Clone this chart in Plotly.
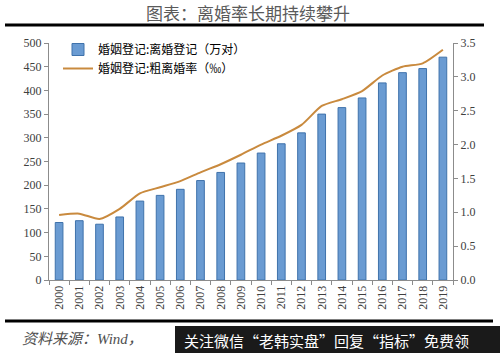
import plotly.graph_objects as go

years = [str(y) for y in range(2000, 2020)]
divorces = [121.3, 125.1, 117.7, 133.0, 166.5, 178.5, 191.3, 209.8, 226.9, 246.8,
            267.8, 287.4, 310.4, 350.0, 363.7, 384.1, 415.8, 437.4, 446.1, 470.1]
rate = [0.96, 0.98, 0.90, 1.05, 1.28, 1.37, 1.46, 1.59, 1.71, 1.85,
        2.00, 2.13, 2.29, 2.57, 2.67, 2.79, 3.02, 3.15, 3.20, 3.40]
left_ticks = [0, 50, 100, 150, 200, 250, 300, 350, 400, 450, 500]
right_ticks = [0.0, 0.5, 1.0, 1.5, 2.0, 2.5, 3.0, 3.5]

W, H = 500, 353
L, R, T, B = 49, 453, 43, 280

def px(x):
    return (x - L) / (R - L)

def py(y):
    return (B - y) / (B - T)

fig = go.Figure()
fig.add_trace(go.Bar(
    x=years, y=divorces, name="婚姻登记:离婚登记（万对）",
    marker=dict(color="#6A9BD2", line=dict(color="#3F72AB", width=1)),
    width=0.38,
))
fig.add_trace(go.Scatter(
    x=years, y=rate, name="婚姻登记:粗离婚率（‰）", yaxis="y2",
    mode="lines", line=dict(color="#C98A3E", width=2, shape="spline", smoothing=0.6),
))

tickfont = dict(family="Liberation Serif", size=12, color="#404040")
fig.update_layout(
    width=W, height=H,
    margin=dict(l=L, r=W - R, t=T, b=H - B, pad=0),
    paper_bgcolor="white", plot_bgcolor="white",
    showlegend=True,
    legend=dict(x=px(58), y=py(35), xanchor="left", yanchor="top",
                font=dict(family="Noto Sans CJK SC", size=12, color="#000000"),
                bgcolor="rgba(0,0,0,0)", tracegroupgap=0, itemwidth=30),
    xaxis=dict(type="category", tickangle=-90, tickfont=tickfont,
               showline=True, linecolor="#8C8C8C", linewidth=1,
               ticks="outside", ticklen=4, tickcolor="#8C8C8C",
               tickson="boundaries", showgrid=False, zeroline=False),
    yaxis=dict(range=[0, 500], tickvals=left_ticks, tickfont=tickfont,
               showline=True, linecolor="#8C8C8C", linewidth=1,
               ticks="outside", ticklen=4, tickcolor="#8C8C8C",
               showgrid=False, zeroline=False),
    yaxis2=dict(range=[0, 3.5], tickvals=right_ticks, ticktext=[f"{v:.1f}" for v in right_ticks],
                overlaying="y", side="right", tickfont=tickfont,
                showline=True, linecolor="#8C8C8C", linewidth=1,
                ticks="outside", ticklen=4, tickcolor="#8C8C8C",
                showgrid=False, zeroline=False),
    bargap=0.6,
)

shapes = [
    dict(type="line", xref="paper", yref="paper", x0=px(5), x1=px(484), y0=py(25), y1=py(25),
         line=dict(color="black", width=3)),
    dict(type="line", xref="paper", yref="paper", x0=px(5), x1=px(493), y0=py(321), y1=py(321),
         line=dict(color="black", width=3)),
    dict(type="rect", xref="paper", yref="paper", x0=px(175), x1=px(500), y0=py(326), y1=py(353),
         fillcolor="#1a1a1a", line=dict(width=0)),
]
fig.update_layout(shapes=shapes)

fig.add_annotation(text="图表：离婚率长期持续攀升", xref="paper", yref="paper",
                   x=px(248), y=py(12), xanchor="center", yanchor="middle", showarrow=False,
                   font=dict(family="Noto Sans CJK SC", size=17, color="#5a5a5a"))
fig.add_annotation(text="<i>资料来源：Wind，</i>", xref="paper", yref="paper",
                   x=px(20), y=py(339), xanchor="left", yanchor="middle", showarrow=False,
                   font=dict(family="Liberation Serif, Noto Sans CJK SC", size=15, color="#505050"))
fig.add_annotation(text="关注微信“老韩实盘”回复“指标”免费领", xref="paper", yref="paper",
                   x=px(182), y=py(340), xanchor="left", yanchor="middle", showarrow=False,
                   font=dict(family="Noto Sans CJK SC", size=15, color="white"))

fig.write_html("out.html")
